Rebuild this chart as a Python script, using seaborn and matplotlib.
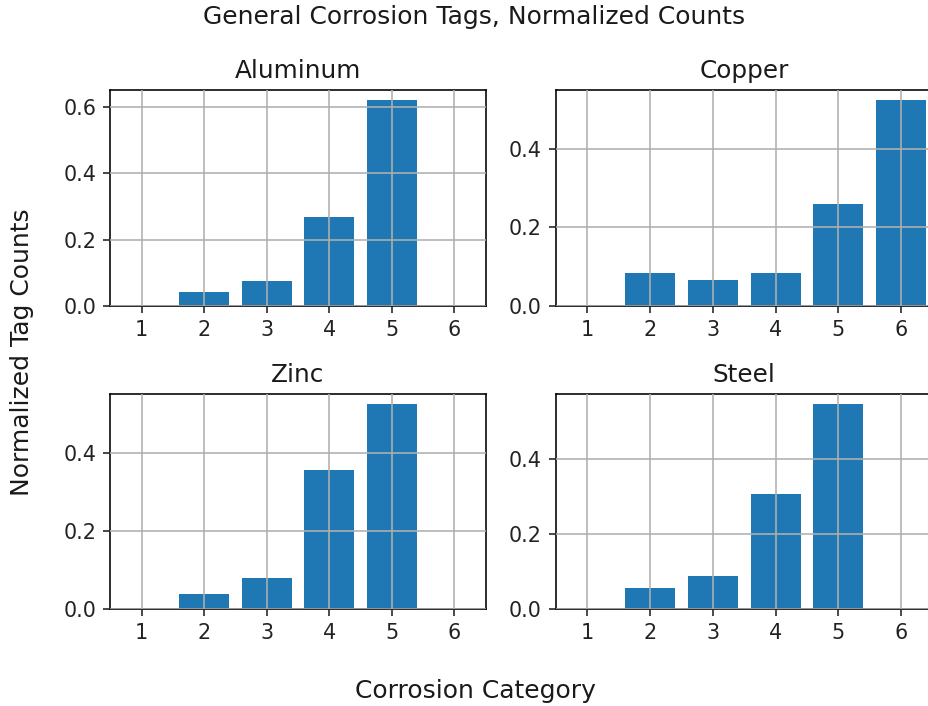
import matplotlib
matplotlib.use("Agg")
import matplotlib.pyplot as plt
import pandas as pd
import seaborn as sns

# Corrosion categories on the x axis
categories = [1, 2, 3, 4, 5, 6]

# Normalized tag counts per metal
aluminum = [0.0, 0.042, 0.075, 0.269, 0.621, 0.0]
copper = [0.0, 0.085, 0.066, 0.085, 0.260, 0.523]
zinc = [0.0, 0.039, 0.078, 0.356, 0.526, 0.0]
steel = [0.0, 0.056, 0.088, 0.305, 0.546, 0.0]

metals = ["Aluminum", "Copper", "Zinc", "Steel"]
series = [aluminum, copper, zinc, steel]

frames = []
for name, vals in zip(metals, series):
    frames.append(pd.DataFrame({"category": categories, "count": vals, "metal": name}))
data = pd.concat(frames, ignore_index=True)

W, H, DPI = 928, 706, 145
fig = plt.figure(figsize=(W / DPI, H / DPI), dpi=DPI)

# axes boxes in pixels: (left, top, right, bottom)
boxes = {
    "Aluminum": (110.4, 90.0, 485.6, 306.0),
    "Copper": (556.0, 90.0, 932.5, 306.0),
    "Zinc": (110.4, 393.7, 485.6, 608.7),
    "Steel": (556.0, 393.7, 932.5, 608.7),
}

for name in metals:
    l, t, r, b = boxes[name]
    ax = fig.add_axes([l / W, 1 - b / H, (r - l) / W, (b - t) / H])
    sub = data[data["metal"] == name]
    sns.barplot(data=sub, x="category", y="count", native_scale=True,
                color="#1f77b4", saturation=1, width=0.8, ax=ax, zorder=1)
    ax.set_xlim(0.5, 6.5)
    ax.set_xticks(categories)
    ax.set_xticklabels([str(c) for c in categories])
    ax.tick_params(labelsize=10.3, colors="#222222", labelcolor="#222222")
    ax.set_xlabel("")
    ax.set_ylabel("")
    ax.set_title(name, fontsize=12.3, color="#1a1a1a")
    ax.grid(True, color="#b0b0b0", linewidth=0.8)
    ax.set_axisbelow(False)
    for p in ax.patches:
        p.set_linewidth(0)

fig.text(474.5 / W, 1 - 17 / H, "General Corrosion Tags, Normalized Counts",
         ha="center", va="center", fontsize=12.4, color="#1a1a1a")
fig.text(475 / W, 1 - 691 / H, "Corrosion Category",
         ha="center", va="center", fontsize=12.4, color="#1a1a1a")
fig.text(22.5 / W, 1 - 352.5 / H, "Normalized Tag Counts",
         ha="center", va="center", rotation=90, fontsize=12.4, color="#1a1a1a")

fig.savefig("out.png", dpi=DPI)
